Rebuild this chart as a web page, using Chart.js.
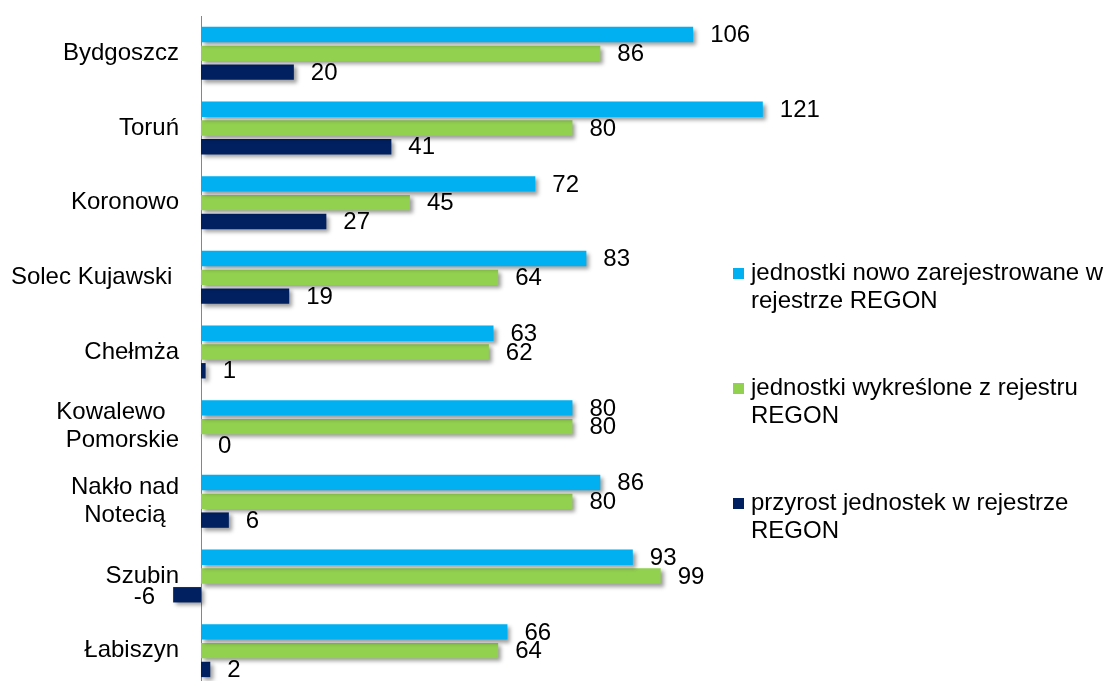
<!DOCTYPE html>
<html>
<head>
<meta charset="utf-8">
<script src="https://cdn.jsdelivr.net/npm/chart.js@4"></script>
<style>
  html, body { margin: 0; padding: 0; background: #fff; overflow: hidden; }
  #wrap { position: relative; width: 1105px; height: 690px; }
</style>
</head>
<body>
<div id="wrap"><canvas id="chart"></canvas></div>
<script>
// gminy (trailing spaces keep the two-line labels centred like the original)
const categories = [
  "Bydgoszcz",
  "Toruń",
  "Koronowo",
  "Solec Kujawski ",
  "Chełmża",
  ["Kowalewo  ", "Pomorskie"],
  ["Nakło nad", "Notecią  "],
  "Szubin",
  "Łabiszyn",
];
const registered = [106, 121, 72, 83, 63, 80, 86, 93, 66];
const removed = [86, 80, 45, 64, 62, 80, 80, 99, 64];
const growth = [20, 41, 27, 19, 1, 0, 6, -6, 2];
const seriesLabels = [
  ["jednostki nowo zarejestrowane w", "rejestrze REGON"],
  ["jednostki wykreślone z rejestru", "REGON"],
  ["przyrost jednostek w rejestrze", "REGON"],
];
const colors = ["#00B0F0", "#92D050", "#002060"];

const FONT = '"Liberation Sans", Arial, sans-serif';

// cień pod słupkami + etykiety wartości
const barExtras = {
  id: "barExtras",
  beforeDatasetsDraw(chart) {
    const ctx = chart.ctx;
    ctx.save();
    ctx.shadowColor = "rgba(0, 0, 0, 0.38)";
    ctx.shadowBlur = 4;
    ctx.shadowOffsetX = 3;
    ctx.shadowOffsetY = 3;
  },
  afterDatasetsDraw(chart) {
    const ctx = chart.ctx;
    ctx.restore();
    ctx.save();
    ctx.font = "24px " + FONT;
    ctx.fillStyle = "#000";
    ctx.textBaseline = "middle";
    chart.data.datasets.forEach((ds, i) => {
      chart.getDatasetMeta(i).data.forEach((bar, j) => {
        const v = ds.data[j];
        if (v < 0) {
          ctx.textAlign = "right";
          ctx.fillText(String(v), bar.x - 18, bar.y + 3);
        } else {
          ctx.textAlign = "left";
          ctx.fillText(String(v), bar.x + 17, bar.y + 1);
        }
      });
    });
    ctx.restore();
  },
};

// legenda po prawej, opisy w dwóch liniach
const sideLegend = {
  id: "sideLegend",
  afterDraw(chart) {
    const ctx = chart.ctx;
    ctx.save();
    ctx.font = "24px " + FONT;
    ctx.textBaseline = "alphabetic";
    ctx.textAlign = "left";
    chart.data.datasets.forEach((ds, i) => {
      const base = 280 + i * 115;
      ctx.fillStyle = ds.backgroundColor;
      ctx.fillRect(733, base - 12, 11, 11);
      ctx.fillStyle = "#000";
      ds.legendLines.forEach((line, k) => {
        ctx.fillText(line, 751, base + k * 28);
      });
    });
    ctx.restore();
  },
};

const datasets = [registered, removed, growth].map((data, i) => ({
  label: seriesLabels[i].join(" "),
  legendLines: seriesLabels[i],
  data,
  backgroundColor: colors[i],
  borderWidth: 0,
  categoryPercentage: 0.754,
  barPercentage: 0.82,
  clip: false,
}));

new Chart(document.getElementById("chart"), {
  type: "bar",
  data: { labels: categories, datasets },
  options: {
    indexAxis: "y",
    responsive: true,
    maintainAspectRatio: false,
    animation: false,
    layout: { padding: { top: 16, bottom: 2, left: 0, right: 0 } },
    plugins: {
      legend: { display: false },
      tooltip: { enabled: false },
    },
    scales: {
      x: {
        display: false,
        min: 0,
        max: 194.7,
      },
      y: {
        grid: { display: false, drawTicks: false },
        border: { display: true, color: "#868686", width: 1 },
        ticks: {
          color: "#000",
          padding: 22,
          font: { family: FONT, size: 24, lineHeight: 1.17 },
        },
        afterFit(scale) {
          scale.width = 201;
          scale.paddingTop = 0;
          scale.paddingBottom = 0;
        },
      },
    },
  },
  plugins: [barExtras, sideLegend],
});
</script>
</body>
</html>
